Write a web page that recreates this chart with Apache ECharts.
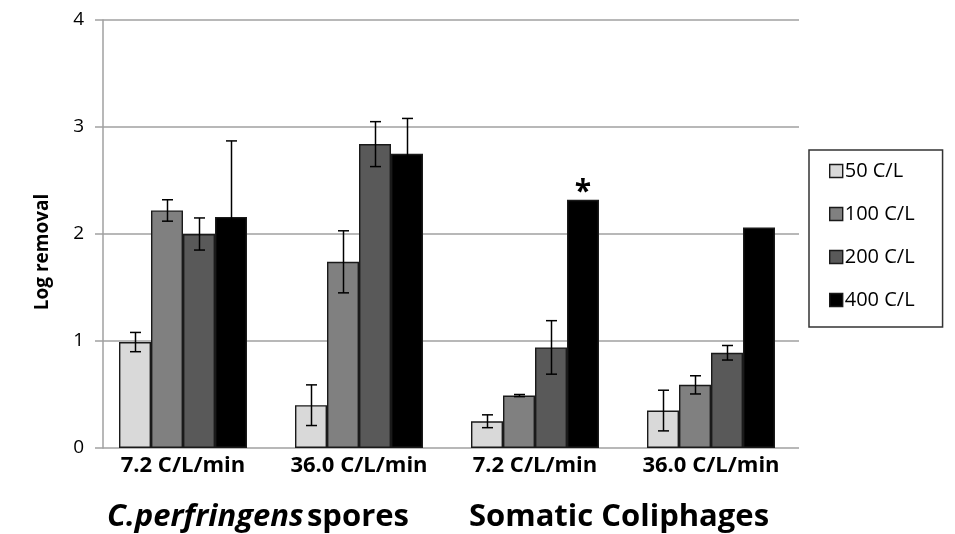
<!DOCTYPE html>
<html>
<head>
<meta charset="utf-8">
<script src="https://cdn.jsdelivr.net/npm/echarts@6/dist/echarts.min.js"></script>
<style>
  html, body { margin: 0; padding: 0; background: #ffffff; }
  #chart { width: 955px; height: 534px; }
</style>
</head>
<body>
<div id="chart"></div>
<script>
// Flow-rate groups along the x axis
const categories = ['7.2 C/L/min', '36.0 C/L/min', '7.2 C/L/min', '36.0 C/L/min'];
const seriesNames = ['50 C/L', '100 C/L', '200 C/L', '400 C/L'];
const yTicks = [0, 1, 2, 3, 4];

// Mean log removal per dose
const removal50 = [0.99, 0.40, 0.25, 0.35];
const removal100 = [2.22, 1.74, 0.49, 0.59];
const removal200 = [2.00, 2.84, 0.94, 0.89];
const removal400 = [2.16, 2.75, 2.32, 2.06];

// Standard deviations (0 = no error bar)
const err50 = [0.09, 0.19, 0.06, 0.19];
const err100 = [0.10, 0.29, 0.01, 0.085];
const err200 = [0.15, 0.21, 0.25, 0.068];
const err400 = [0.71, 0.33, 0, 0];

// Significance marker on the 400 C/L bar of the coliphage 7.2 C/L/min group
const markedIndex = 2;
const markText = '*';

const FONT = 'Open Sans';
const colors = ['#d9d9d9', '#808080', '#595959', '#000000'];
const means = [removal50, removal100, removal200, removal400];
const errs = [err50, err100, err200, err400];
const BAR_W = 32;

const chart = echarts.init(document.getElementById('chart'), null, { renderer: 'canvas' });

const barSeries = means.map((vals, si) => ({
  name: seriesNames[si],
  type: 'bar',
  barWidth: BAR_W,
  barGap: '0%',
  itemStyle: { color: colors[si], borderColor: '#1a1a1a', borderWidth: 1.4 },
  data: vals.map((v, ci) => (si === 3 && ci === markedIndex)
    ? { value: v, label: { show: true, formatter: markText, position: 'top', distance: -8,
        fontSize: 30, fontWeight: 'bold', color: '#000', fontFamily: FONT } }
    : v),
  z: 2
}));

const errorSeries = means.map((vals, si) => ({
  type: 'custom',
  name: seriesNames[si] + ' err',
  z: 5,
  silent: true,
  data: vals.map((v, ci) => [ci, v - errs[si][ci], v + errs[si][ci], errs[si][ci]]),
  renderItem: function (params, api) {
    if (api.value(3) <= 0) return null;
    const ci = api.value(0);
    const lo = api.coord([ci, api.value(1)]);
    const hi = api.coord([ci, api.value(2)]);
    const x = Math.round(lo[0] + (si - 1.5) * BAR_W) + 0.5;
    const cap = 5.5;
    const style = { stroke: '#000', lineWidth: 1.5 };
    return {
      type: 'group',
      children: [
        { type: 'line', shape: { x1: x, y1: lo[1], x2: x, y2: hi[1] }, style },
        { type: 'line', shape: { x1: x - cap, y1: hi[1], x2: x + cap, y2: hi[1] }, style },
        { type: 'line', shape: { x1: x - cap, y1: lo[1], x2: x + cap, y2: lo[1] }, style }
      ]
    };
  }
}));

const option = {
  backgroundColor: '#ffffff',
  animation: false,
  grid: { left: 95, right: 156, top: 20, bottom: 86, containLabel: false },
  legend: {
    data: seriesNames,
    orient: 'vertical',
    left: 809,
    top: 150,
    padding: [11, 28, 17, 20],
    itemWidth: 13,
    itemHeight: 13,
    itemGap: 23,
    borderColor: '#333',
    borderWidth: 1.5,
    icon: 'rect',
    itemStyle: { borderColor: '#1a1a1a', borderWidth: 1.4 },
    textStyle: { fontFamily: FONT, fontSize: 20, color: '#000', lineHeight: 20, padding: [0, 0, 0, -3] }
  },
  xAxis: {
    type: 'category',
    data: categories,
    axisLine: { show: false },
    axisTick: { show: false },
    axisLabel: { interval: 0, hideOverlap: false, fontFamily: FONT, fontSize: 22,
      fontWeight: 'bold', color: '#000', margin: 7 }
  },
  yAxis: {
    type: 'value',
    min: yTicks[0],
    max: yTicks[yTicks.length - 1],
    interval: 1,
    offset: -8,
    axisLine: { show: true, lineStyle: { color: '#a0a0a0', width: 1.5 } },
    axisTick: { show: false },
    splitLine: { lineStyle: { color: '#a0a0a0', width: 1.5 } },
    axisLabel: { fontFamily: FONT, fontSize: 19, color: '#000', margin: 19 }
  },
  graphic: [
    {
      type: 'text', x: 43, y: 252, rotation: Math.PI / 2,
      style: { text: 'Log removal', fontFamily: FONT, fontSize: 19, fontWeight: 'bold',
        fill: '#000', align: 'center', verticalAlign: 'middle' }
    },
    {
      type: 'text', x: 258, y: 517,
      style: {
        text: '{i|C.perfringens} {n|spores}',
        align: 'center', verticalAlign: 'middle',
        rich: {
          i: { fontFamily: FONT, fontSize: 31, fontWeight: 'bold', fontStyle: 'italic', fill: '#000' },
          n: { fontFamily: FONT, fontSize: 31, fontWeight: 'bold', fill: '#000' }
        }
      }
    },
    {
      type: 'text', x: 619, y: 517,
      style: { text: 'Somatic Coliphages', fontFamily: FONT, fontSize: 31, fontWeight: 'bold',
        fill: '#000', align: 'center', verticalAlign: 'middle' }
    }
  ],
  series: barSeries.concat(errorSeries)
};

chart.setOption(option);
</script>
</body>
</html>
